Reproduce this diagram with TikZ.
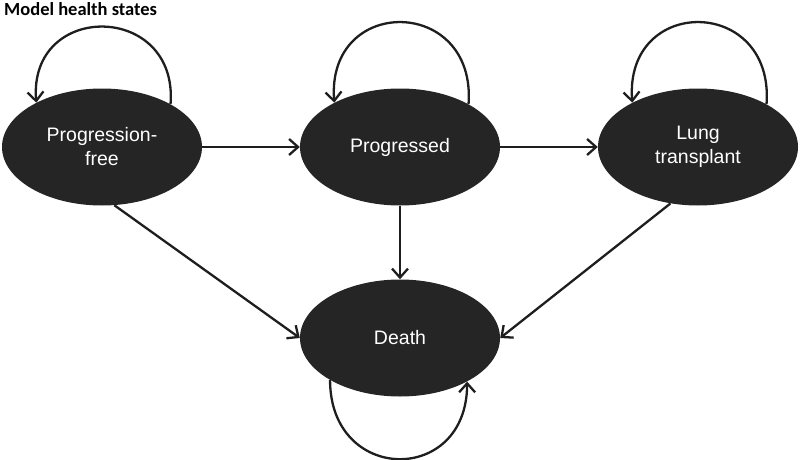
\documentclass[tikz,border=0pt]{standalone}
\usepackage{fontspec}
\setmainfont{Liberation Sans}
\newfontfamily\titlefont{Carlito}
\usetikzlibrary{shapes.geometric,arrows.meta,positioning}

\definecolor{statefill}{HTML}{252525}
\definecolor{linecol}{HTML}{1E1E1E}

\begin{document}
\begin{tikzpicture}[
  x=1pt, y=1pt,
  state/.style={ellipse, draw=none, fill=statefill, minimum width=200pt, minimum height=117pt,
    align=center, text=white, font=\fontsize{19.5}{24}\selectfont, inner sep=0pt},
  arrow/.style={-{Straight Barb[length=9pt,width=16pt,line width=2.3pt]}, line width=2.3pt, draw=linecol}
]
\useasboundingbox (0,0) rectangle (800,459);

% Title
\node[anchor=north west, inner sep=0pt, font=\titlefont\bfseries\fontsize{18.5}{22}\selectfont] (title) at (4,457) {Model health states};

% States
\node[state] (pf) at (102,312) {Progression-\\free};
\node[state] (prog) at (400,312) {Progressed};
\node[state] (lung) at (698,312) {Lung\\transplant};
\node[state] (death) at (400,121) {Death};

% Transitions
\draw[arrow] (pf) -- (prog);
\draw[arrow] (prog) -- (lung);
\draw[arrow] (prog) -- (death);
\draw[arrow] (pf.-78) -- (death.west);
\draw[arrow] (lung.-116) -- (death.east);

% Self loops
\draw[arrow] (pf.32) .. controls +(8,102) and +(-8,102) .. (pf.146);
\draw[arrow] (prog.32) .. controls +(8,108) and +(-8,108) .. (prog.146);
\draw[arrow] (lung.32) .. controls +(8,108) and +(-8,108) .. (lung.146);
\draw[arrow] (death.211) .. controls +(0,-104) and +(0,-104) .. (death.327);

\end{tikzpicture}
\end{document}
